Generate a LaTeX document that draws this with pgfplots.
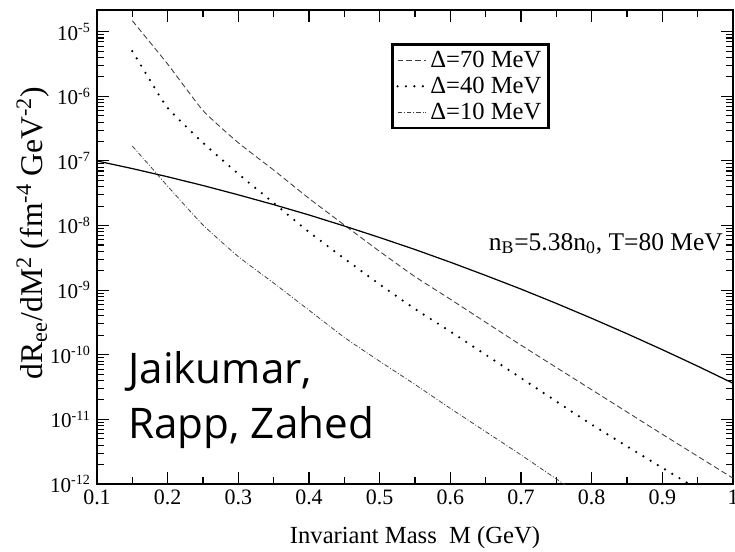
\documentclass[border=0pt]{standalone}
\usepackage{fontspec}
\setmainfont{Liberation Serif}
\newfontfamily\notefont{Open Sans}
\usepackage{pgfplots}
\pgfplotsset{compat=1.18}

\begin{document}
\begin{tikzpicture}
\begin{axis}[
    scale only axis,
    width=12.72cm, height=9.48cm,
    xmin=0.1, xmax=1.0,
    ymode=log, ymin=1e-12, ymax=2.17e-5,
    xtick={0.1,0.2,0.3,0.4,0.5,0.6,0.7,0.8,0.9,1.0},
    xticklabels={0.1,0.2,0.3,0.4,0.5,0.6,0.7,0.8,0.9,1},
    minor x tick num=1,
    ytick={1e-12,1e-11,1e-10,1e-9,1e-8,1e-7,1e-6,1e-5},
    yticklabels={10\textsuperscript{-12},10\textsuperscript{-11},10\textsuperscript{-10},10\textsuperscript{-9},10\textsuperscript{-8},10\textsuperscript{-7},10\textsuperscript{-6},10\textsuperscript{-5}},
    tick align=inside,
    major tick length=0.24cm,
    minor tick length=0.14cm,
    tick style={line width=0.6pt, black},
    axis line style={line width=0.8pt},
    xticklabel style={font=\fontsize{12.5}{14}\selectfont},
    yticklabel style={font=\fontsize{12}{14}\selectfont},
    xlabel={Invariant Mass\ \ M (GeV)},
    xlabel style={at={(axis description cs:0.5,-0.113)}, anchor=center, font=\fontsize{14}{16}\selectfont},
    ylabel={dR\textsubscript{ee}/dM\textsuperscript{2} (fm\textsuperscript{-4} GeV\textsuperscript{-2})},
    ylabel style={at={(axis description cs:-0.101,0.53)}, anchor=center, font=\fontsize{18}{20}\selectfont},
    legend style={
        at={(axis description cs:0.712,0.930)}, anchor=north east,
        draw=black, line width=1.6pt,
        font=\fontsize{14}{15}\selectfont,
        nodes={inner sep=2pt},
        inner xsep=2pt, inner ysep=1.5pt,
        /tikz/every even column/.append style={column sep=7pt},
    },
    legend cell align=left,
    legend image code/.code={\draw[#1] (0pt,0pt) -- (16pt,0pt);},
]
% Delta = 70 MeV
\addplot[black!75, line width=0.5pt, dash pattern=on 3.2pt off 1.8pt, smooth, tension=0.3] coordinates {
 (0.15,1.48e-5) (0.2,3.16e-6) (0.25,6.03e-7) (0.3,1.91e-7) (0.35,7.24e-8)
 (0.4,2.63e-8) (0.45,1.02e-8) (0.5,3.98e-9) (0.55,1.62e-9) (0.6,7.24e-10)
 (0.7,1.41e-10) (0.8,2.88e-11) (0.9,5.89e-12) (1.0,1.23e-12)};
\addlegendentry{Δ=70 MeV}
% Delta = 40 MeV
\addplot[black, line width=1.4pt, line cap=round, dash pattern=on 0pt off 4.8pt, smooth, tension=0.3] coordinates {
 (0.15,5.01e-6) (0.175,1.78e-6) (0.2,6.61e-7) (0.25,1.91e-7) (0.3,6.31e-8)
 (0.35,2.24e-8) (0.4,7.94e-9) (0.45,3.09e-9) (0.5,1.23e-9) (0.55,5.13e-10)
 (0.6,2.29e-10) (0.7,4.37e-11) (0.8,8.32e-12) (0.9,1.78e-12) (0.95,8.32e-13)};
\addlegendentry{Δ=40 MeV}
% Delta = 10 MeV
\addplot[black!75, line width=0.45pt, dash pattern=on 2.6pt off 1.1pt on 0.5pt off 1.1pt, smooth, tension=0.3] coordinates {
 (0.15,1.70e-7) (0.18,7.24e-8) (0.2,4.07e-8) (0.25,1.02e-8) (0.3,3.31e-9)
 (0.35,1.29e-9) (0.4,4.90e-10) (0.45,1.86e-10) (0.5,7.94e-11) (0.55,3.47e-11)
 (0.6,1.48e-11) (0.65,6.46e-12) (0.7,2.82e-12) (0.77,8.51e-13)};
\addlegendentry{Δ=10 MeV}
% reference rate
\addplot[black, line width=0.7pt, forget plot] coordinates {
 (0.1,1.00e-7) (0.15,7.62e-8) (0.2,5.69e-8) (0.25,4.17e-8) (0.3,2.99e-8)
 (0.35,2.11e-8) (0.4,1.46e-8) (0.45,9.84e-9) (0.5,6.53e-9) (0.55,4.26e-9)
 (0.6,2.71e-9) (0.65,1.69e-9) (0.7,1.04e-9) (0.75,6.24e-10) (0.8,3.67e-10)
 (0.85,2.12e-10) (0.9,1.20e-10) (0.95,6.67e-11) (1.0,3.63e-11)};

\node[anchor=base west, inner sep=0pt, font=\fontsize{14.5}{16}\selectfont]
  at (axis cs:0.654,4.17e-9) {n\textsubscript{B}=5.38n\textsubscript{0}, T=80 MeV};
\node[anchor=base west, inner sep=0pt, font=\notefont\fontsize{24}{28}\selectfont]
  at (axis cs:0.144,3.63e-11) {Jaikumar,};
\node[anchor=base west, inner sep=0pt, font=\notefont\fontsize{24}{28}\selectfont]
  at (axis cs:0.144,5.13e-12) {Rapp, Zahed};
\end{axis}
\pgfresetboundingbox
\useasboundingbox (-1.94cm,-1.34cm) rectangle (12.76cm,9.68cm);
\end{tikzpicture}
\end{document}
